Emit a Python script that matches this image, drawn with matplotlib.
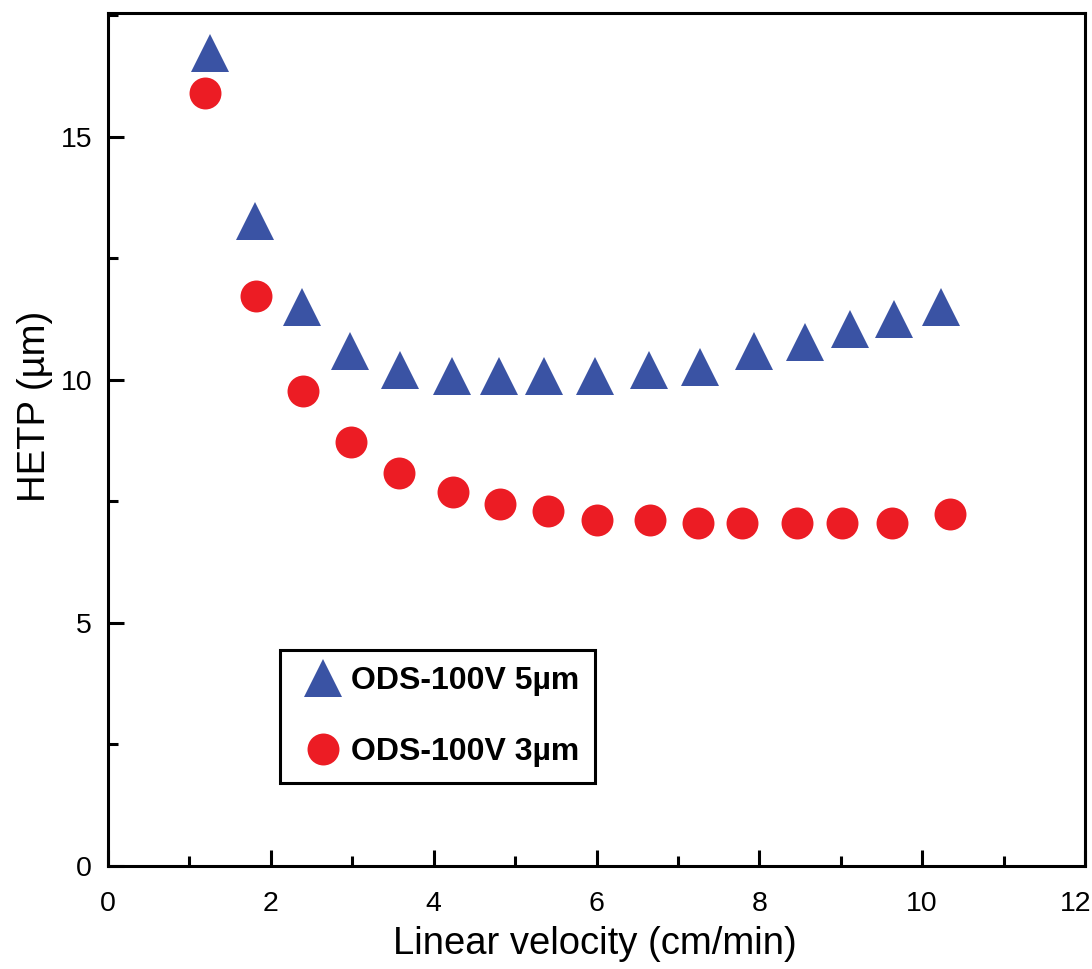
import matplotlib
matplotlib.use("Agg")
import matplotlib.pyplot as plt
from matplotlib.ticker import MultipleLocator
from matplotlib.transforms import ScaledTranslation

plt.rcParams['font.family'] = ['Liberation Sans', 'DejaVu Sans']

# Data
x_5um = [1.25, 1.80, 2.38, 2.97, 3.59, 4.22, 4.80, 5.35, 5.98, 6.64, 7.27, 7.93, 8.56, 9.11, 9.65, 10.23]
hetp_5um = [16.73, 13.27, 11.51, 10.60, 10.21, 10.08, 10.08, 10.08, 10.08, 10.21, 10.27, 10.60, 10.79, 11.05, 11.26, 11.50]

x_3um = [1.19, 1.82, 2.40, 2.99, 3.57, 4.24, 4.82, 5.41, 6.00, 6.66, 7.25, 7.79, 8.46, 9.01, 9.63, 10.34]
hetp_3um = [15.90, 11.73, 9.77, 8.72, 8.08, 7.70, 7.45, 7.30, 7.12, 7.12, 7.05, 7.05, 7.05, 7.05, 7.05, 7.25]

x_ticks = [0, 2, 4, 6, 8, 10, 12]
x_ticklabels = ["0", "2", "4", "6", "8", "10", "12"]
y_ticks = [0, 5, 10, 15]
y_ticklabels = ["0", "5", "10", "15"]

label_5um = "ODS-100V 5µm"
label_3um = "ODS-100V 3µm"
xlabel = "Linear velocity (cm/min)"
ylabel = "HETP (µm)"

blue = "#3a53a4"
red = "#ec1c24"

fig = plt.figure(figsize=(10.92, 9.69), dpi=100)
ax = fig.add_axes([0.0989, 0.1063, 0.8947, 0.8803])

ax.plot(x_5um, hetp_5um, linestyle='none', marker='^', markersize=27,
        color=blue, markeredgewidth=0, label=label_5um)
ax.plot(x_3um, hetp_3um, linestyle='none', marker='o', markersize=23,
        color=red, markeredgewidth=0, label=label_3um)

ax.set_xlim(0, 12)
ax.set_ylim(0, 17.55)
ax.set_xticks(x_ticks, x_ticklabels)
ax.set_yticks(y_ticks, y_ticklabels)
ax.xaxis.set_minor_locator(MultipleLocator(1))
ax.yaxis.set_minor_locator(MultipleLocator(2.5))

for s in ax.spines.values():
    s.set_linewidth(2.2)
    s.set_color('black')

ax.tick_params(which='both', direction='in', width=2.2, top=False, right=False)
ax.tick_params(which='major', length=11.5, labelsize=20.5)
ax.tick_params(axis='x', which='major', pad=18)
ax.tick_params(axis='y', which='major', pad=11.5)
ax.tick_params(which='minor', length=7)

# the last x tick label sits slightly left of the axis end in the reference
last = ax.get_xticklabels()[-1]
last.set_transform(last.get_transform() + ScaledTranslation(-9 / 100, 0, fig.dpi_scale_trans))

ax.set_xlabel(xlabel, fontsize=27.5)
ax.set_ylabel(ylabel, fontsize=27.5)
ax.xaxis.set_label_coords(0.4985, -0.070)
ax.yaxis.set_label_coords(-0.0563, 0.539)

leg = ax.legend(loc='lower left', bbox_to_anchor=(0.176, 0.0973),
                prop={'weight': 'bold', 'size': 23}, frameon=True,
                fancybox=False, borderpad=0.5, handletextpad=0.0,
                labelspacing=1.27, markerscale=1.0, handlelength=1.71,
                borderaxespad=0)
leg.get_frame().set_edgecolor('black')
leg.get_frame().set_linewidth(2.2)
leg.get_frame().set_alpha(1)

fig.savefig("out.png", dpi=100)
